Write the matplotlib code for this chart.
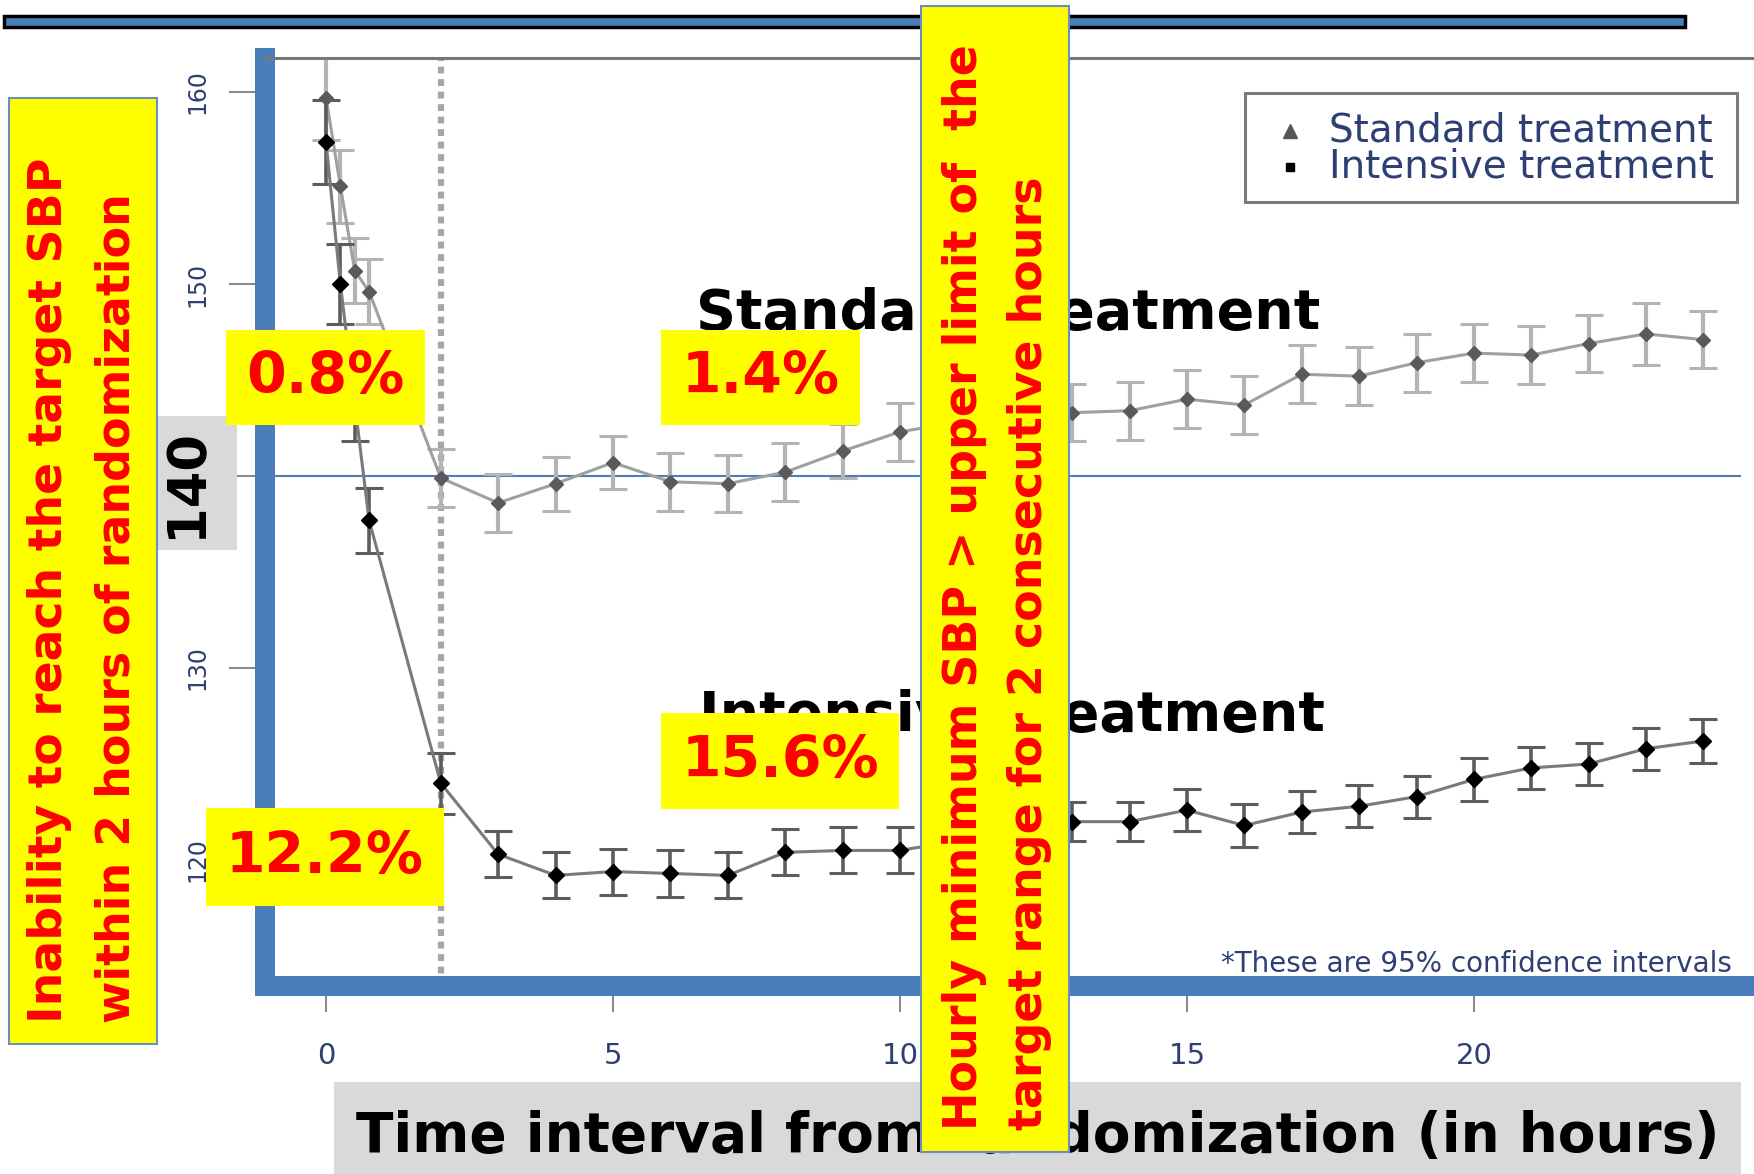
import matplotlib
matplotlib.use("Agg")
import matplotlib.pyplot as plt
from matplotlib.patches import Rectangle
from matplotlib.lines import Line2D

# hours after randomization (15-min readings in the first hour, then hourly)
hours = [0, 0.25, 0.5, 0.75, 2, 3, 4, 5, 6, 7, 8, 9, 10, 11, 12,
         13, 14, 15, 16, 17, 18, 19, 20, 21, 22, 23, 24]

# mean hourly minimum SBP (mm Hg) and 95% CI half-widths
std_sbp = [159.7, 155.1, 150.7, 149.6, 139.9, 138.6, 139.6, 140.7, 139.7, 139.6,
           140.2, 141.3, 142.3, 142.8, 143.1, 143.3, 143.4, 144.0, 143.7, 145.3,
           145.2, 145.9, 146.4, 146.3, 146.9, 147.4, 147.1]
std_ci = [2.2, 1.9, 1.7, 1.7, 1.5, 1.5, 1.4, 1.4, 1.5, 1.5, 1.5, 1.4, 1.5, 1.5,
          1.5, 1.5, 1.5, 1.5, 1.5, 1.5, 1.5, 1.5, 1.5, 1.5, 1.5, 1.6, 1.5]

int_sbp = [157.4, 150.0, 143.8, 137.7, 124.0, 120.3, 119.2, 119.4, 119.3, 119.2,
           120.4, 120.5, 120.5, 121.0, 121.6, 122.0, 122.0, 122.6, 121.8, 122.5,
           122.8, 123.3, 124.2, 124.8, 125.0, 125.8, 126.2]
int_ci = [2.2, 2.1, 2.0, 1.7, 1.6, 1.2, 1.2, 1.2, 1.2, 1.2, 1.2, 1.2, 1.2, 1.1,
          1.1, 1.0, 1.0, 1.1, 1.1, 1.1, 1.1, 1.1, 1.1, 1.1, 1.1, 1.1, 1.15]

x_ticks = [0, 5, 10, 15, 20]
y_ticks = [120, 130, 140, 150, 160]
y_ticklabels = ["120", "130", "", "150", "160"]

pct_labels = ["0.8%", "1.4%", "15.6%", "12.2%"]

W, H = 1754, 1174
BLUE = "#4a7ebb"
YELLOW = "#ffff00"
RED = "#ff0000"
GREY_BOX = "#d9d9d9"
TICK_TXT = "#2e3f73"
BOLD_FONT = ["DejaVu Sans"]

fig = plt.figure(figsize=(W / 100, H / 100), dpi=100)


def fx(x):
    return x / W


def fy(y):
    return 1 - y / H


def box(x0, y0, x1, y1, fc, ec="none", lw=0, z=5):
    fig.add_artist(Rectangle((fx(x0), fy(y1)), (x1 - x0) / W, (y1 - y0) / H,
                             transform=fig.transFigure, fc=fc, ec=ec, lw=lw, zorder=z))


# main plot
ax_l, ax_r, ax_t, ax_b = 265, 1754, 58, 986
ax = fig.add_axes([fx(ax_l), fy(ax_b), (ax_r - ax_l) / W, (ax_b - ax_t) / H])
ax.set_xlim(-1.063, 24.88)
ax.set_ylim(113.44, 161.77)

for side in ["left", "bottom"]:
    ax.spines[side].set_color(BLUE)
    ax.spines[side].set_linewidth(14.4)
ax.spines["bottom"].set_capstyle("projecting")
ax.spines["top"].set_color("#777777")
ax.spines["top"].set_linewidth(2.2)
ax.spines["right"].set_visible(False)

ax.set_xticks(x_ticks)
ax.set_yticks(y_ticks)
ax.set_yticklabels(y_ticklabels, rotation=90, va="center")
ax.tick_params(axis="y", length=26, width=1.5, color="#8c8c8c", pad=14,
               labelsize=17, labelcolor=TICK_TXT)
ax.tick_params(axis="x", length=19, width=1.5, color="#8c8c8c", pad=21,
               labelsize=21, labelcolor=TICK_TXT)

ax.axhline(140, xmax=(1740 - ax_l) / (ax_r - ax_l), color=BLUE, lw=1.5, zorder=1)
ax.axvline(2, color="#a6a6a6", lw=4.5, ls=(0, (1.1, 0.9)), zorder=1)

# standard arm
ax.errorbar(hours, std_sbp, yerr=std_ci, fmt="none", ecolor="#b4b4b4",
            elinewidth=3, capsize=10, capthick=2.2, zorder=2)
ax.plot(hours, std_sbp, color="#a0a0a0", lw=2.2, zorder=3)
ax.plot(hours, std_sbp, ls="none", marker="D", ms=7, color="#5a5a5a", zorder=4)

# intensive arm
ax.errorbar(hours, int_sbp, yerr=int_ci, fmt="none", ecolor="#5c5c5c",
            elinewidth=2.6, capsize=10, capthick=2.2, zorder=5)
ax.plot(hours, int_sbp, color="#7a7a7a", lw=2.2, zorder=6)
ax.plot(hours, int_sbp, ls="none", marker="D", ms=8, color="black", zorder=7)

# legend
box(1245, 93, 1737, 202, "white", ec="#7a7a7a", lw=2.2, z=4)
fig.add_artist(Line2D([fx(1290)], [fy(131)], transform=fig.transFigure, marker="^",
                      ms=10, color="#555555", ls="none", zorder=4))
fig.add_artist(Line2D([fx(1290)], [fy(167)], transform=fig.transFigure, marker="s",
                      ms=6, color="black", ls="none", zorder=4))
fig.text(fx(1329), fy(131), "Standard treatment", fontsize=28, color=TICK_TXT,
         va="center", ha="left", zorder=4)
fig.text(fx(1329), fy(167), "Intensive treatment", fontsize=28, color=TICK_TXT,
         va="center", ha="left", zorder=4)
fig.text(fx(1732), fy(964), "*These are 95% confidence intervals", fontsize=20,
         color=TICK_TXT, va="center", ha="right", zorder=4)

# arm labels
fig.text(fx(696), fy(314), "Standard treatment", family=BOLD_FONT, weight="bold",
         fontsize=40, color="black", va="center", ha="left", zorder=3)
fig.text(fx(699), fy(716), "Intensive treatment", family=BOLD_FONT, weight="bold",
         fontsize=40, color="black", va="center", ha="left", zorder=3)

# top rule
box(4, 16, 1685, 27, BLUE, ec="black", lw=2.5, z=5)

# y-label "140" highlight
box(157, 416, 237, 550, GREY_BOX, z=5)
fig.text(fx(186), fy(483), "140", family=BOLD_FONT, weight="bold", fontsize=38,
         rotation=90, ha="center", va="center", zorder=6)

# x-axis title
box(334, 1082, 1741, 1174, GREY_BOX, z=5)
fig.text(fx(356), fy(1152), "Time interval from randomization (in hours)",
         family=BOLD_FONT, weight="bold", fontsize=39.5, color="black",
         ha="left", va="baseline", zorder=6)

# percentage callouts
pct_boxes = [(226, 330, 425, 425), (661, 330, 860, 425),
             (661, 713, 899, 809), (206, 808, 444, 906)]
for lab, (x0, y0, x1, y1) in zip(pct_labels, pct_boxes):
    box(x0, y0, x1, y1, YELLOW, z=10)
    fig.text(fx((x0 + x1) / 2), fy((y0 + y1) / 2), lab, family=BOLD_FONT,
             weight="bold", fontsize=41, color=RED, ha="center", va="center",
             zorder=11)

# vertical explanation boxes
box(9, 98, 157, 1044, YELLOW, ec="#6c8ebf", lw=1.5, z=10)
fig.text(fx(50), fy(1023), "Inability to reach the target SBP", family=BOLD_FONT,
         weight="bold", fontsize=34, color=RED, rotation=90, ha="center",
         va="bottom", zorder=11)
fig.text(fx(117), fy(1023), "within 2 hours of randomization", family=BOLD_FONT,
         weight="bold", fontsize=33, color=RED, rotation=90, ha="center",
         va="bottom", zorder=11)

box(921, 6, 1069, 1152, YELLOW, ec="#6c8ebf", lw=1.5, z=12)
fig.text(fx(964), fy(1130), "Hourly minimum SBP > upper limit of  the",
         family=BOLD_FONT, weight="bold", fontsize=33, color=RED, rotation=90,
         ha="center", va="bottom", zorder=13)
fig.text(fx(1029), fy(1130), "target range for 2 consecutive hours",
         family=BOLD_FONT, weight="bold", fontsize=33, color=RED, rotation=90,
         ha="center", va="bottom", zorder=13)

fig.savefig("out.png", dpi=100)
